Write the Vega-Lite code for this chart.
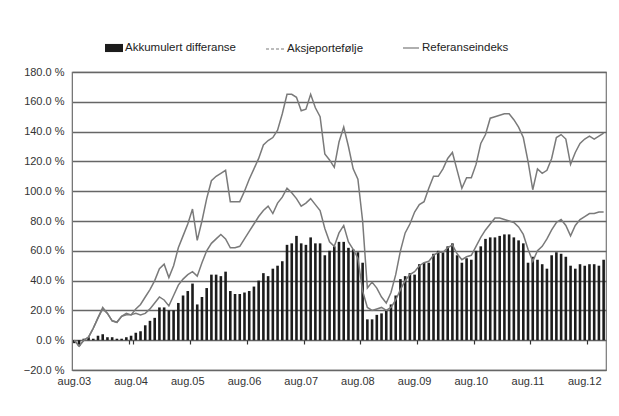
{
 "$schema": "https://vega.github.io/schema/vega-lite/v6.json",
 "width": 534,
 "height": 298,
 "autosize": {"type": "none"},
 "padding": {"left": 72, "top": 72, "right": 13, "bottom": 46},
 "background": "white",
 "config": {
  "font": "Liberation Sans, Arial, sans-serif",
  "view": {"stroke": "#777777", "strokeWidth": 1.2},
  "axis": {"labelFont": "Liberation Sans, Arial, sans-serif", "labelFontSize": 11, "labelColor": "#333333", "labelOverlap": false},
  "legend": {"labelFont": "Liberation Sans, Arial, sans-serif", "labelFontSize": 11.5, "labelColor": "#222222", "padding": 0, "labelOffset": 2}
 },
 "data": {"values": [
  {"m":"2003-08","A":0,"R":0,"D":-2},{"m":"2003-09","A":-4,"R":-4,"D":-4},{"m":"2003-10","A":0,"R":0,"D":1},{"m":"2003-11","A":2,"R":2,"D":2},{"m":"2003-12","A":8,"R":8,"D":1},
  {"m":"2004-01","A":15,"R":15,"D":3},{"m":"2004-02","A":22,"R":21,"D":4},{"m":"2004-03","A":18,"R":18,"D":2},{"m":"2004-04","A":13,"R":13,"D":2},{"m":"2004-05","A":12,"R":12,"D":1},{"m":"2004-06","A":16,"R":16,"D":1},{"m":"2004-07","A":18,"R":17,"D":2},
  {"m":"2004-08","A":17,"R":17,"D":3},{"m":"2004-09","A":21,"R":18,"D":5},{"m":"2004-10","A":24,"R":17,"D":6},{"m":"2004-11","A":29,"R":18,"D":10},{"m":"2004-12","A":34,"R":21,"D":13},
  {"m":"2005-01","A":40,"R":25,"D":15},{"m":"2005-02","A":48,"R":29,"D":22},{"m":"2005-03","A":51,"R":27,"D":22},{"m":"2005-04","A":42,"R":23,"D":20},{"m":"2005-05","A":50,"R":30,"D":20},{"m":"2005-06","A":62,"R":37,"D":25},{"m":"2005-07","A":70,"R":41,"D":30},
  {"m":"2005-08","A":78,"R":44,"D":33},{"m":"2005-09","A":88,"R":46,"D":38},{"m":"2005-10","A":67,"R":43,"D":24},{"m":"2005-11","A":80,"R":52,"D":29},{"m":"2005-12","A":95,"R":60,"D":35},
  {"m":"2006-01","A":107,"R":65,"D":44},{"m":"2006-02","A":110,"R":68,"D":44},{"m":"2006-03","A":112,"R":71,"D":43},{"m":"2006-04","A":114,"R":68,"D":46},{"m":"2006-05","A":93,"R":62,"D":33},{"m":"2006-06","A":93,"R":62,"D":31},{"m":"2006-07","A":93,"R":63,"D":31},
  {"m":"2006-08","A":100,"R":68,"D":32},{"m":"2006-09","A":108,"R":73,"D":33},{"m":"2006-10","A":115,"R":78,"D":36},{"m":"2006-11","A":122,"R":83,"D":40},{"m":"2006-12","A":131,"R":87,"D":45},
  {"m":"2007-01","A":134,"R":90,"D":43},{"m":"2007-02","A":136,"R":85,"D":48},{"m":"2007-03","A":141,"R":92,"D":50},{"m":"2007-04","A":152,"R":96,"D":53},{"m":"2007-05","A":165,"R":102,"D":64},{"m":"2007-06","A":165,"R":99,"D":65},{"m":"2007-07","A":163,"R":95,"D":70},
  {"m":"2007-08","A":154,"R":90,"D":65},{"m":"2007-09","A":155,"R":92,"D":64},{"m":"2007-10","A":165,"R":95,"D":69},{"m":"2007-11","A":156,"R":91,"D":65},{"m":"2007-12","A":150,"R":87,"D":65},
  {"m":"2008-01","A":125,"R":75,"D":57},{"m":"2008-02","A":121,"R":66,"D":60},{"m":"2008-03","A":116,"R":63,"D":63},{"m":"2008-04","A":133,"R":72,"D":66},{"m":"2008-05","A":143,"R":77,"D":66},{"m":"2008-06","A":130,"R":66,"D":62},{"m":"2008-07","A":115,"R":61,"D":61},
  {"m":"2008-08","A":108,"R":55,"D":59},{"m":"2008-09","A":80,"R":33,"D":52},{"m":"2008-10","A":35,"R":22,"D":14},{"m":"2008-11","A":39,"R":20,"D":14},{"m":"2008-12","A":35,"R":21,"D":17},
  {"m":"2009-01","A":29,"R":22,"D":18},{"m":"2009-02","A":25,"R":20,"D":20},{"m":"2009-03","A":32,"R":22,"D":24},{"m":"2009-04","A":44,"R":27,"D":30},{"m":"2009-05","A":60,"R":34,"D":41},{"m":"2009-06","A":72,"R":40,"D":43},{"m":"2009-07","A":78,"R":44,"D":45},
  {"m":"2009-08","A":86,"R":46,"D":44},{"m":"2009-09","A":91,"R":50,"D":51},{"m":"2009-10","A":93,"R":52,"D":52},{"m":"2009-11","A":102,"R":53,"D":52},{"m":"2009-12","A":110,"R":57,"D":58},
  {"m":"2010-01","A":110,"R":59,"D":60},{"m":"2010-02","A":115,"R":59,"D":59},{"m":"2010-03","A":122,"R":62,"D":63},{"m":"2010-04","A":126,"R":64,"D":65},{"m":"2010-05","A":114,"R":58,"D":57},{"m":"2010-06","A":102,"R":54,"D":52},{"m":"2010-07","A":109,"R":56,"D":55},
  {"m":"2010-08","A":109,"R":57,"D":54},{"m":"2010-09","A":118,"R":63,"D":60},{"m":"2010-10","A":132,"R":69,"D":63},{"m":"2010-11","A":138,"R":74,"D":68},{"m":"2010-12","A":149,"R":78,"D":69},
  {"m":"2011-01","A":150,"R":82,"D":69},{"m":"2011-02","A":151,"R":82,"D":70},{"m":"2011-03","A":152,"R":81,"D":71},{"m":"2011-04","A":152,"R":80,"D":71},{"m":"2011-05","A":148,"R":79,"D":69},{"m":"2011-06","A":143,"R":76,"D":67},{"m":"2011-07","A":136,"R":71,"D":65},
  {"m":"2011-08","A":120,"R":61,"D":52},{"m":"2011-09","A":101,"R":53,"D":56},{"m":"2011-10","A":115,"R":60,"D":54},{"m":"2011-11","A":112,"R":63,"D":51},{"m":"2011-12","A":114,"R":68,"D":48},
  {"m":"2012-01","A":122,"R":74,"D":57},{"m":"2012-02","A":136,"R":79,"D":59},{"m":"2012-03","A":138,"R":81,"D":58},{"m":"2012-04","A":135,"R":77,"D":56},{"m":"2012-05","A":118,"R":70,"D":50},{"m":"2012-06","A":126,"R":77,"D":48},{"m":"2012-07","A":132,"R":81,"D":51},
  {"m":"2012-08","A":135,"R":83,"D":50},{"m":"2012-09","A":137,"R":85,"D":51},{"m":"2012-10","A":135,"R":85,"D":51},{"m":"2012-11","A":137,"R":86,"D":50},{"m":"2012-12","A":139,"R":86,"D":54}
 ]},
 "layer": [
  {
   "mark": {"type": "bar", "width": {"band": 0.55}},
   "encoding": {
    "x": {"field": "m", "type": "ordinal", "title": null,
     "scale": {"paddingInner": 0, "paddingOuter": 0},
     "axis": {"orient": "bottom", "values": ["2003-08","2004-08","2005-08","2006-08","2007-08","2008-08","2009-08","2010-08","2011-08","2012-08"],
      "labelExpr": "'aug.' + substring(datum.value, 2, 4)", "labelAngle": 0, "ticks": false, "domain": false, "grid": false, "labelPadding": 5}},
    "y": {"field": "D", "type": "quantitative", "title": null,
     "scale": {"domain": [-20, 180], "nice": false, "zero": false},
     "axis": {"values": [-20,0,20,40,60,80,100,120,140,160,180], "tickCount": 11, "labelExpr": "format(datum.value, '.1f') + ' %'",
      "grid": true, "gridColor": "#666666", "gridWidth": 1.5, "domain": true, "domainColor": "#777777", "ticks": false, "labelPadding": 8}},
    "color": {"datum": "Akkumulert differanse", "scale": {"range": ["#1c1c1c"]},
     "legend": {"orient": "none", "legendX": 33, "legendY": -33, "title": null,
      "symbolType": "M-1,-0.45L1,-0.45L1,0.45L-1,0.45Z", "symbolSize": 324, "symbolOpacity": 1, "symbolStrokeWidth": 0}}
   }
  },
  {
   "mark": {"type": "line", "strokeWidth": 1.5},
   "encoding": {
    "x": {"field": "m", "type": "ordinal", "title": null,
     "axis": {"orient": "bottom", "offset": -30, "values": ["2004-08","2005-08","2006-08","2007-08","2008-08","2009-08","2010-08","2011-08","2012-08"],
      "labels": false, "domain": false, "grid": false, "ticks": true, "tickSize": 4, "tickColor": "#333333", "tickWidth": 1.2, "tickBand": "extent"}},
    "y": {"field": "A", "type": "quantitative", "title": null,
     "axis": {"values": [-20,0,20,40,60,80,100,120,140,160,180], "tickCount": 11, "labelExpr": "format(datum.value, '.1f') + ' %'",
      "grid": true, "gridColor": "#666666", "gridWidth": 1.5, "domain": true, "domainColor": "#777777", "ticks": false, "labelPadding": 8}},
    "color": {"datum": "Aksjeportefølje", "scale": {"range": ["#7a7a7a"]},
     "legend": {"orient": "none", "legendX": 193, "legendY": -33, "title": null, "symbolType": "stroke", "symbolSize": 324, "symbolDash": [3, 2], "symbolStrokeWidth": 1.2}}
   }
  },
  {
   "mark": {"type": "line", "strokeWidth": 1.5},
   "encoding": {
    "x": {"field": "m", "type": "ordinal", "title": null, "axis": null},
    "y": {"field": "R", "type": "quantitative", "title": null,
     "axis": {"values": [-20,0,20,40,60,80,100,120,140,160,180], "tickCount": 11, "labelExpr": "format(datum.value, '.1f') + ' %'",
      "grid": true, "gridColor": "#666666", "gridWidth": 1.5, "domain": true, "domainColor": "#777777", "ticks": false, "labelPadding": 8}},
    "color": {"datum": "Referanseindeks", "scale": {"range": ["#7a7a7a"]},
     "legend": {"orient": "none", "legendX": 330, "legendY": -33, "title": null, "symbolType": "stroke", "symbolSize": 256, "symbolStrokeWidth": 1.2}}
   }
  }
 ],
 "resolve": {"scale": {"color": "independent"}, "axis": {"x": "independent"}}
}
